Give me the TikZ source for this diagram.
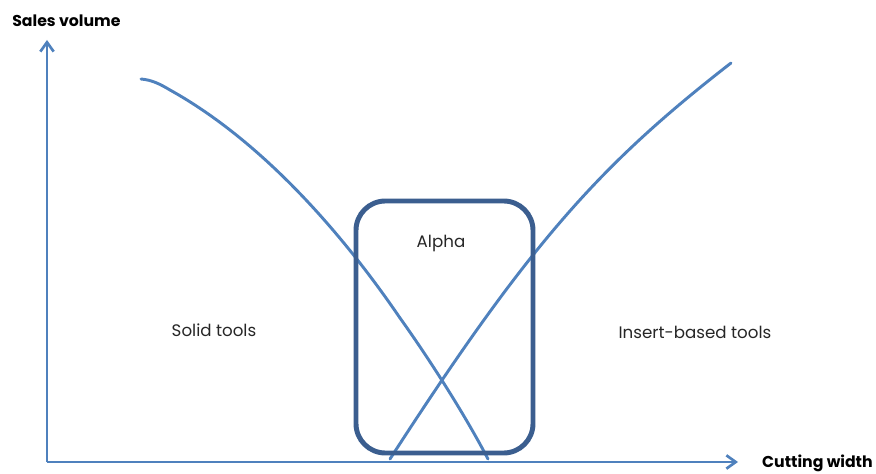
\documentclass[tikz,border=0pt]{standalone}
\usepackage{fontspec}
\setmainfont{Poppins}
\usetikzlibrary{arrows.meta}
\definecolor{curveblue}{HTML}{4F81BD}
\definecolor{boxblue}{HTML}{3B5E8F}
\begin{document}
\begin{tikzpicture}[x=0.75pt,y=-0.75pt,
  axis/.style={draw=curveblue,line width=2.2pt,-{Straight Barb[length=7pt,width=10pt,line width=2pt]}},
  curve/.style={draw=curveblue,line width=2.2pt,line cap=round,line join=round},
  lbl/.style={font=\fontsize{12.5}{14}\selectfont,inner sep=0pt,text=black!85},
  axlbl/.style={font=\fontsize{11.8}{14}\selectfont\bfseries,inner sep=0pt}]
\useasboundingbox (0,0) rectangle (876,474);
\coordinate (origin) at (47,462);
\coordinate (ytip) at (47,40);
\coordinate (xtip) at (738,462);
\draw[axis] (origin) -- (ytip);
\draw[axis] (origin) -- (xtip);
% solid tools curve
\coordinate (s0) at (141,79);
\coordinate (s1) at (170,90);
\coordinate (s2) at (400,318);
\coordinate (s3) at (488,459);
\draw[curve] (s0) .. controls (152,80) and (160,84) .. (s1)
  .. controls (260,140) and (340,230) .. (s2)
  .. controls (430,360) and (465,415) .. (s3);
% insert-based tools curve
\coordinate (i0) at (390,459);
\coordinate (i1) at (731,63);
\draw[curve] (i0) .. controls (530,242) and (601,164) .. (i1);
\draw[boxblue,line width=3.7pt,rounded corners=22pt] (356,201) rectangle (533,453);
\node[axlbl,anchor=base west] (ylabel) at (12,27) {Sales volume};
\node[axlbl,anchor=base east] (xlabel) at (873,468) {Cutting width};
\node[lbl,anchor=base] (alpha) at (441,248) {Alpha};
\node[lbl,anchor=base] (solid) at (214,337) {Solid tools};
\node[lbl,anchor=base] (insert) at (695,339) {Insert-based tools};
\end{tikzpicture}
\end{document}
